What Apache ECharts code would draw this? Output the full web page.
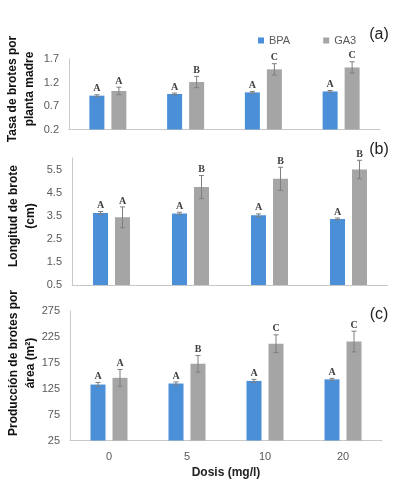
<!DOCTYPE html>
<html>
<head>
<meta charset="utf-8">
<script src="https://cdn.jsdelivr.net/npm/echarts@6/dist/echarts.min.js"></script>
<style>
  html, body { margin: 0; padding: 0; background: #fff; }
  #chart { width: 393px; height: 481px; }
</style>
</head>
<body>
<div id="chart"></div>
<script>
// dosis categories
var doses = ['0', '5', '10', '20']

// (a) tasa de brotes por planta madre
var bpaA = [0.92, 0.955, 0.99, 1.01]
var bpaErrA = [0.02, 0.02, 0.02, 0.02]
var gaA = [1.02, 1.21, 1.48, 1.52]
var gaErrA = [0.08, 0.12, 0.12, 0.12]
var bpaLetA = ['A', 'A', 'A', 'A']
var gaLetA = ['A', 'B', 'C', 'C']
var ticksA = [0.2, 0.7, 1.2, 1.7]

// (b) longitud de brote (cm)
var bpaB = [3.62, 3.6, 3.52, 3.36]
var bpaErrB = [0.06, 0.05, 0.06, 0.04]
var gaB = [3.43, 4.74, 5.1, 5.5]
var gaErrB = [0.45, 0.5, 0.5, 0.4]
var bpaLetB = ['A', 'A', 'A', 'A']
var gaLetB = ['A', 'B', 'B', 'B']
var ticksB = [0.5, 1.5, 2.5, 3.5, 4.5, 5.5]

// (c) produccion de brotes por area (m2)
var bpaC = [133, 135, 140, 143]
var bpaErrC = [4, 3, 3, 2]
var gaC = [146, 173, 212, 216]
var gaErrC = [16, 16, 17, 20]
var bpaLetC = ['A', 'A', 'A', 'A']
var gaLetC = ['A', 'B', 'C', 'C']
var ticksC = [25, 75, 125, 175, 225, 275]

var BLUE = '#4A8FD8'
var GRAY = '#A5A5A5'
var BAR_W = 15
var BAR_GAP = 7
var AXIS_COLOR = '#C8C8C8'
var LABEL_COLOR = '#595959'

function xAxisFor(idx, showLabels) {
  var ax = {
    type: 'category',
    gridIndex: idx,
    data: doses,
    axisLine: { lineStyle: { color: AXIS_COLOR } },
    axisTick: { show: false },
    axisLabel: { show: showLabels, color: LABEL_COLOR, fontSize: 11, margin: 11, fontFamily: 'Liberation Sans' }
  }
  if (showLabels) {
    ax.name = 'Dosis (mg/l)'
    ax.nameLocation = 'middle'
    ax.nameGap = 26
    ax.nameTextStyle = { color: '#222', fontSize: 12, fontWeight: 'bold', fontFamily: 'Liberation Sans' }
  }
  return ax
}

function yAxisFor(idx, min, max, ticks) {
  return {
    type: 'value',
    gridIndex: idx,
    min: min,
    max: max,
    splitLine: { show: false },
    axisLine: { show: true, lineStyle: { color: AXIS_COLOR } },
    axisTick: { show: false },
    axisLabel: {
      customValues: ticks,
      color: LABEL_COLOR,
      fontSize: 11,
      margin: 10,
      fontFamily: 'Liberation Sans'
    }
  }
}

function barSeries(name, idx, values, color) {
  return {
    name: name,
    type: 'bar',
    xAxisIndex: idx,
    yAxisIndex: idx,
    data: values,
    barWidth: BAR_W,
    barGap: (BAR_GAP / BAR_W * 100) + '%',
    itemStyle: { color: color }
  }
}

// error bar + significance letter drawn over each bar
function errSeries(idx, values, errs, letters, side) {
  var offset = side * (BAR_W + BAR_GAP) / 2
  return {
    type: 'custom',
    xAxisIndex: idx,
    yAxisIndex: idx,
    silent: true,
    z: 5,
    data: values.map(function (v, i) { return [i, v, errs[i]] }),
    renderItem: function (params, api) {
      var i = api.value(0)
      var v = api.value(1)
      var e = api.value(2)
      var hi = api.coord([i, v + e])
      var lo = api.coord([i, v - e])
      var x = hi[0] + offset
      var lineStyle = { stroke: '#7F7F7F', lineWidth: 1 }
      return {
        type: 'group',
        children: [
          { type: 'line', shape: { x1: x, y1: hi[1], x2: x, y2: lo[1] }, style: lineStyle },
          { type: 'line', shape: { x1: x - 2.5, y1: hi[1], x2: x + 2.5, y2: hi[1] }, style: lineStyle },
          { type: 'line', shape: { x1: x - 2.5, y1: lo[1], x2: x + 2.5, y2: lo[1] }, style: lineStyle },
          {
            type: 'text',
            x: x,
            y: hi[1] - 1,
            style: {
              text: letters[params.dataIndex],
              fill: '#404040',
              font: 'bold 10px "Liberation Serif"',
              align: 'center',
              verticalAlign: 'bottom'
            }
          }
        ]
      }
    }
  }
}

function yTitle(text, x, y) {
  return {
    type: 'text',
    x: x,
    y: y,
    rotation: Math.PI / 2,
    style: {
      text: text,
      fill: '#111',
      font: 'bold 12px "Liberation Sans"',
      lineHeight: 17,
      align: 'center',
      verticalAlign: 'middle'
    }
  }
}

function panelTag(text, x, y) {
  return {
    type: 'text',
    x: x,
    y: y,
    style: {
      text: text,
      fill: '#222',
      font: '16px "Liberation Sans"',
      align: 'center',
      verticalAlign: 'middle'
    }
  }
}

var chart = echarts.init(document.getElementById('chart'), null, { renderer: 'canvas' })

var option = {
  animation: false,
  backgroundColor: '#fff',
  legend: {
    data: ['BPA', 'GA3'],
    left: 253,
    top: 30,
    icon: 'rect',
    itemWidth: 6,
    itemHeight: 6,
    itemGap: 33,
    textStyle: { color: LABEL_COLOR, fontSize: 11, fontFamily: 'Liberation Sans' }
  },
  grid: [
    { left: 69, right: 13, top: 59, height: 70.5 },
    { left: 72, right: 5, top: 158, height: 127 },
    { left: 70, right: 11, top: 311, height: 129.5 }
  ],
  xAxis: [xAxisFor(0, false), xAxisFor(1, false), xAxisFor(2, true)],
  yAxis: [
    yAxisFor(0, 0.2, 1.7, ticksA),
    yAxisFor(1, 0.5, 6, ticksB),
    yAxisFor(2, 25, 275, ticksC)
  ],
  graphic: [
    yTitle('Tasa de brotes por\nplanta madre', 21, 89),
    yTitle('Longitud de brote\n(cm)', 22, 216),
    yTitle('Producción de brotes por\nárea (m²)', 22, 363),
    panelTag('(a)', 379, 35),
    panelTag('(b)', 379, 150),
    panelTag('(c)', 379, 315)
  ],
  series: [
    barSeries('BPA', 0, bpaA, BLUE),
    barSeries('GA3', 0, gaA, GRAY),
    barSeries('BPA', 1, bpaB, BLUE),
    barSeries('GA3', 1, gaB, GRAY),
    barSeries('BPA', 2, bpaC, BLUE),
    barSeries('GA3', 2, gaC, GRAY),
    errSeries(0, bpaA, bpaErrA, bpaLetA, -1),
    errSeries(0, gaA, gaErrA, gaLetA, 1),
    errSeries(1, bpaB, bpaErrB, bpaLetB, -1),
    errSeries(1, gaB, gaErrB, gaLetB, 1),
    errSeries(2, bpaC, bpaErrC, bpaLetC, -1),
    errSeries(2, gaC, gaErrC, gaLetC, 1)
  ]
}

chart.setOption(option)
</script>
</body>
</html>
